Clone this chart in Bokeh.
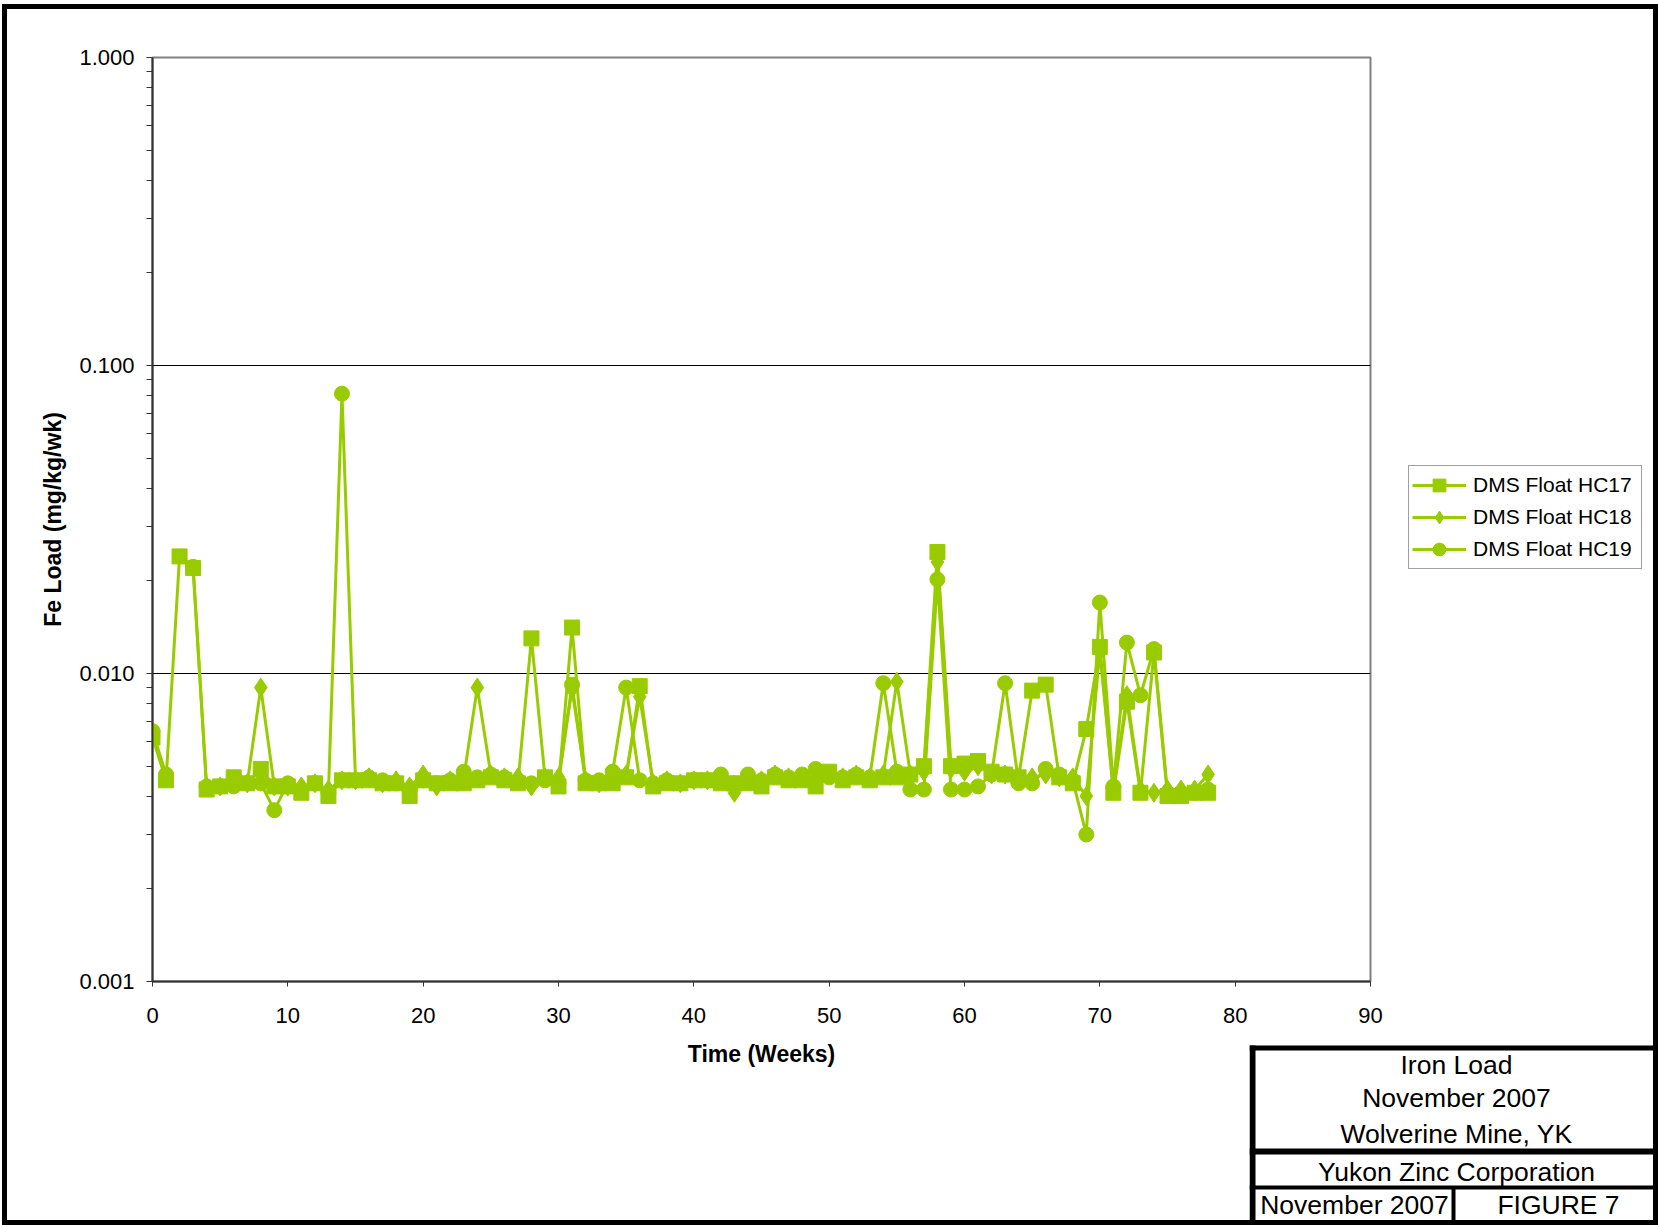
from bokeh.plotting import figure
from bokeh.layouts import column
from bokeh.models import (FixedTicker, PrintfTickFormatter, Legend, LegendItem,
                          Range1d, ColumnDataSource)
from bokeh.embed import file_html
from bokeh.resources import INLINE
from bokeh.core.properties import value

nan = float("nan")

weeks = list(range(79))

hc17 = [0.0062, 0.0045, 0.0240, 0.0220, 0.0042, 0.0043, 0.0046, 0.0044, 0.0049, 0.0043,
        0.0043, 0.0041, 0.0044, 0.0040, 0.0045, 0.0045, 0.0045, 0.0044, 0.0044, 0.0040,
        0.0045, 0.0044, 0.0044, 0.0044, 0.0045, 0.0046, 0.0045, 0.0044, 0.0130, 0.0046,
        0.0043, 0.0141, 0.0044, 0.0044, 0.0044, 0.0046, 0.0091, 0.0043, 0.0044, 0.0044,
        0.0045, 0.0045, 0.0044, 0.0044, 0.0044, 0.0043, 0.0046, 0.0045, 0.0045, 0.0043,
        0.0048, 0.0045, 0.0046, 0.0045, 0.0046, 0.0046, 0.0047, 0.0050, 0.0248, 0.0050,
        0.0051, 0.0052, 0.0048, 0.0047, 0.0046, 0.0088, 0.0092, 0.0046, 0.0044, 0.0066,
        0.0122, 0.0041, 0.0081, 0.0041, 0.0117, 0.0040, 0.0040, 0.0041, 0.0041]

hc18 = [0.0063, 0.0046, nan, nan, 0.0043, 0.0043, 0.0044, 0.0044, 0.0090, 0.0043,
        0.0043, 0.0043, 0.0044, 0.0042, 0.0045, 0.0045, 0.0046, 0.0044, 0.0045, 0.0043,
        0.0047, 0.0043, 0.0045, 0.0046, 0.0090, 0.0047, 0.0046, 0.0046, 0.0043, 0.0046,
        0.0046, 0.0089, 0.0045, 0.0044, 0.0046, 0.0047, 0.0084, 0.0044, 0.0045, 0.0044,
        0.0045, 0.0045, 0.0045, 0.0041, 0.0045, 0.0045, 0.0047, 0.0046, 0.0046, 0.0046,
        0.0047, 0.0046, 0.0047, 0.0046, 0.0047, 0.0094, 0.0047, 0.0048, 0.0230, 0.0049,
        0.0048, 0.0050, 0.0047, 0.0047, 0.0046, 0.0046, 0.0047, 0.0046, 0.0046, 0.0040,
        0.0118, 0.0042, 0.0085, 0.0042, 0.0041, 0.0042, 0.0042, 0.0042, 0.0047]

hc19 = [0.0065, 0.0047, nan, 0.0222, 0.0043, 0.0043, 0.0043, 0.0044, 0.0044, 0.0036,
        0.0044, 0.0042, 0.0044, 0.0041, 0.0810, 0.0045, 0.0046, 0.0045, 0.0044, 0.0042,
        0.0045, 0.0044, 0.0045, 0.0048, 0.0046, 0.0047, 0.0046, 0.0045, 0.0044, 0.0045,
        0.0044, 0.0092, 0.0045, 0.0045, 0.0048, 0.0090, 0.0045, 0.0044, 0.0045, 0.0044,
        0.0045, 0.0045, 0.0047, 0.0044, 0.0047, 0.0045, 0.0047, 0.0046, 0.0047, 0.0049,
        0.0046, 0.0046, 0.0047, 0.0046, 0.0093, 0.0048, 0.0042, 0.0042, 0.0202, 0.0042,
        0.0042, 0.0043, 0.0047, 0.0093, 0.0044, 0.0044, 0.0049, 0.0047, 0.0045, 0.0030,
        0.0170, 0.0043, 0.0126, 0.0085, 0.0120, 0.0041, 0.0041, 0.0041, 0.0042]

series_names = ["DMS Float HC17", "DMS Float HC18", "DMS Float HC19"]
x_ticks = [0, 10, 20, 30, 40, 50, 60, 70, 80, 90]
y_ticks = [0.001, 0.01, 0.1, 1.0]
y_minor = [k * 10.0 ** e for e in (-3, -2, -1) for k in range(2, 10)]

title_lines = ["Iron Load", "November 2007", "Wolverine Mine, YK"]
company = "Yukon Zinc Corporation"
date_cell = "November 2007"
figure_cell = "FIGURE 7"

GREEN = "#99CC00"
FONT = "Liberation Sans"

# ---- layout constants (page pixels) ----
ORIGIN_X, ORIGIN_Y = 7, 9          # content origin (margin + border)
MAIN_W, MAIN_H = 1646, 1211
FRAME_L, FRAME_T, FRAME_W, FRAME_H = 152, 57, 1218, 924
OV_X, OV_Y = 1249, 440             # overlay (legend + title block) top-left
OV_W, OV_H = ORIGIN_X + MAIN_W - OV_X, ORIGIN_Y + MAIN_H - OV_Y

bl = FRAME_L - ORIGIN_X
bt = FRAME_T - ORIGIN_Y
p = figure(width=MAIN_W, height=MAIN_H, y_axis_type="log",
           x_range=Range1d(0, 90), y_range=Range1d(0.001, 1.0),
           output_backend="svg", toolbar_location=None,
           min_border_left=bl, min_border_top=bt,
           min_border_right=MAIN_W - bl - FRAME_W,
           min_border_bottom=MAIN_H - bt - FRAME_H)

p.background_fill_color = "white"
p.border_fill_color = "white"
p.outline_line_color = "#808080"
p.outline_line_width = 2

p.xaxis.ticker = FixedTicker(ticks=x_ticks)
p.xaxis.major_tick_in = 0
p.xaxis.major_tick_out = 5
p.xaxis.minor_tick_line_color = None
p.xaxis.axis_line_color = "#333333"
p.xaxis.axis_line_width = 2
p.xaxis.major_tick_line_color = "#333333"
p.xaxis.major_label_text_font = FONT
p.xaxis.major_label_text_font_size = "22px"
p.xaxis.major_label_text_color = "black"
p.xaxis.major_label_standoff = 21
p.xaxis.axis_label = "Time (Weeks)"
p.xaxis.axis_label_text_font = FONT
p.xaxis.axis_label_text_font_size = "23px"
p.xaxis.axis_label_text_font_style = "bold"
p.xaxis.axis_label_text_color = "black"
p.xaxis.axis_label_standoff = 15

p.yaxis.ticker = FixedTicker(ticks=y_ticks, minor_ticks=y_minor)
p.yaxis.formatter = PrintfTickFormatter(format="%.3f")
p.yaxis.major_tick_in = 0
p.yaxis.major_tick_out = 6
p.yaxis.minor_tick_in = 0
p.yaxis.minor_tick_out = 6
p.yaxis.axis_line_color = "#333333"
p.yaxis.axis_line_width = 2
p.yaxis.major_tick_line_color = "#333333"
p.yaxis.minor_tick_line_color = "#333333"
p.yaxis.major_label_text_font = FONT
p.yaxis.major_label_text_font_size = "22px"
p.yaxis.major_label_text_color = "black"
p.yaxis.major_label_standoff = 12
p.yaxis.axis_label = "Fe Load (mg/kg/wk)"
p.yaxis.axis_label_text_font = FONT
p.yaxis.axis_label_text_font_size = "23px"
p.yaxis.axis_label_text_font_style = "bold"
p.yaxis.axis_label_text_color = "black"
p.yaxis.axis_label_standoff = 10

p.xgrid.visible = False
p.ygrid.ticker = FixedTicker(ticks=[0.01, 0.1])
p.ygrid.grid_line_color = "black"
p.ygrid.grid_line_width = 1.2

src = ColumnDataSource(dict(week=weeks, hc17=hc17, hc18=hc18, hc19=hc19))
specs = [("hc17", "square", 15), ("hc18", "diamond", 19), ("hc19", "circle", 15)]
for col, marker, size in specs:
    p.line("week", col, source=src, line_color=GREEN, line_width=3)
    p.scatter("week", col, source=src, marker=marker, size=size,
              fill_color=GREEN, line_color=GREEN, line_width=1)

# ---- overlay figure: legend + title block (transparent, absolutely positioned) ----
t = figure(width=OV_W, height=OV_H, x_range=Range1d(0, OV_W), y_range=Range1d(OV_H, 0),
           output_backend="svg", toolbar_location=None, min_border=0,
           x_axis_location=None, y_axis_location=None,
           styles={"position": "absolute", "left": "%dpx" % OV_X, "top": "%dpx" % OV_Y,
                   "z-index": "10"})
t.grid.visible = False
t.outline_line_color = None
t.background_fill_alpha = 0
t.border_fill_alpha = 0

# legend sample renderers (single point placed off-canvas, only used for the legend)
items = []
for (col, marker, size), name in zip(specs, series_names):
    lr = t.line(x=[-500, -400], y=[-500, -500], line_color=GREEN, line_width=3)
    sr = t.scatter(x=[-500], y=[-500], marker=marker, size=size,
                   fill_color=GREEN, line_color=GREEN, line_width=1)
    items.append(LegendItem(label=name, renderers=[lr, sr]))

legend = Legend(items=items, location=(1408 - OV_X, OV_Y + OV_H - 569))
legend.label_text_font = FONT
legend.label_text_font_size = "21px"
legend.label_text_color = "black"
legend.glyph_width = 54
legend.glyph_height = 32
legend.label_height = 32
legend.label_width = 165
legend.label_standoff = 7
legend.spacing = 0
legend.padding = 3
legend.margin = 0
legend.border_line_color = "#404040"
legend.border_line_width = 1
legend.background_fill_color = "white"
t.add_layout(legend)

# title block (relative to its own top-left, y downward)
TB_X, TB_Y = 1249, 1044
ox, oy = TB_X - OV_X, TB_Y - OV_Y
t.quad(left=[ox], right=[OV_W], top=[oy], bottom=[OV_H], fill_color="white", line_color=None)
bars_l = [0, 0, 0, 0, 202]
bars_r = [OV_W - ox, 6, OV_W - ox, OV_W - ox, 206]
bars_t = [1, 1, 104, 141, 143]
bars_b = [6, OV_H - oy, 110, 145, OV_H - oy]
t.quad(left=[ox + v for v in bars_l], right=[ox + v for v in bars_r],
       top=[oy + v for v in bars_t], bottom=[oy + v for v in bars_b],
       fill_color="black", line_color=None)

tx = [207, 207, 207, 207, 105, 309]
ty = [20, 53, 89, 127, 160, 160]
tt = title_lines + [company, date_cell, figure_cell]
t.text(x=[ox + v for v in tx], y=[oy + v for v in ty], text=tt,
       text_font=value(FONT), text_font_size=value("26.5px"),
       text_align="center", text_baseline="middle", text_color="black")

main = column(p, styles={"border": "5px solid black"}, margin=(4, 0, 0, 2))

open("out.html", "w").write(file_html([main, t], INLINE))
